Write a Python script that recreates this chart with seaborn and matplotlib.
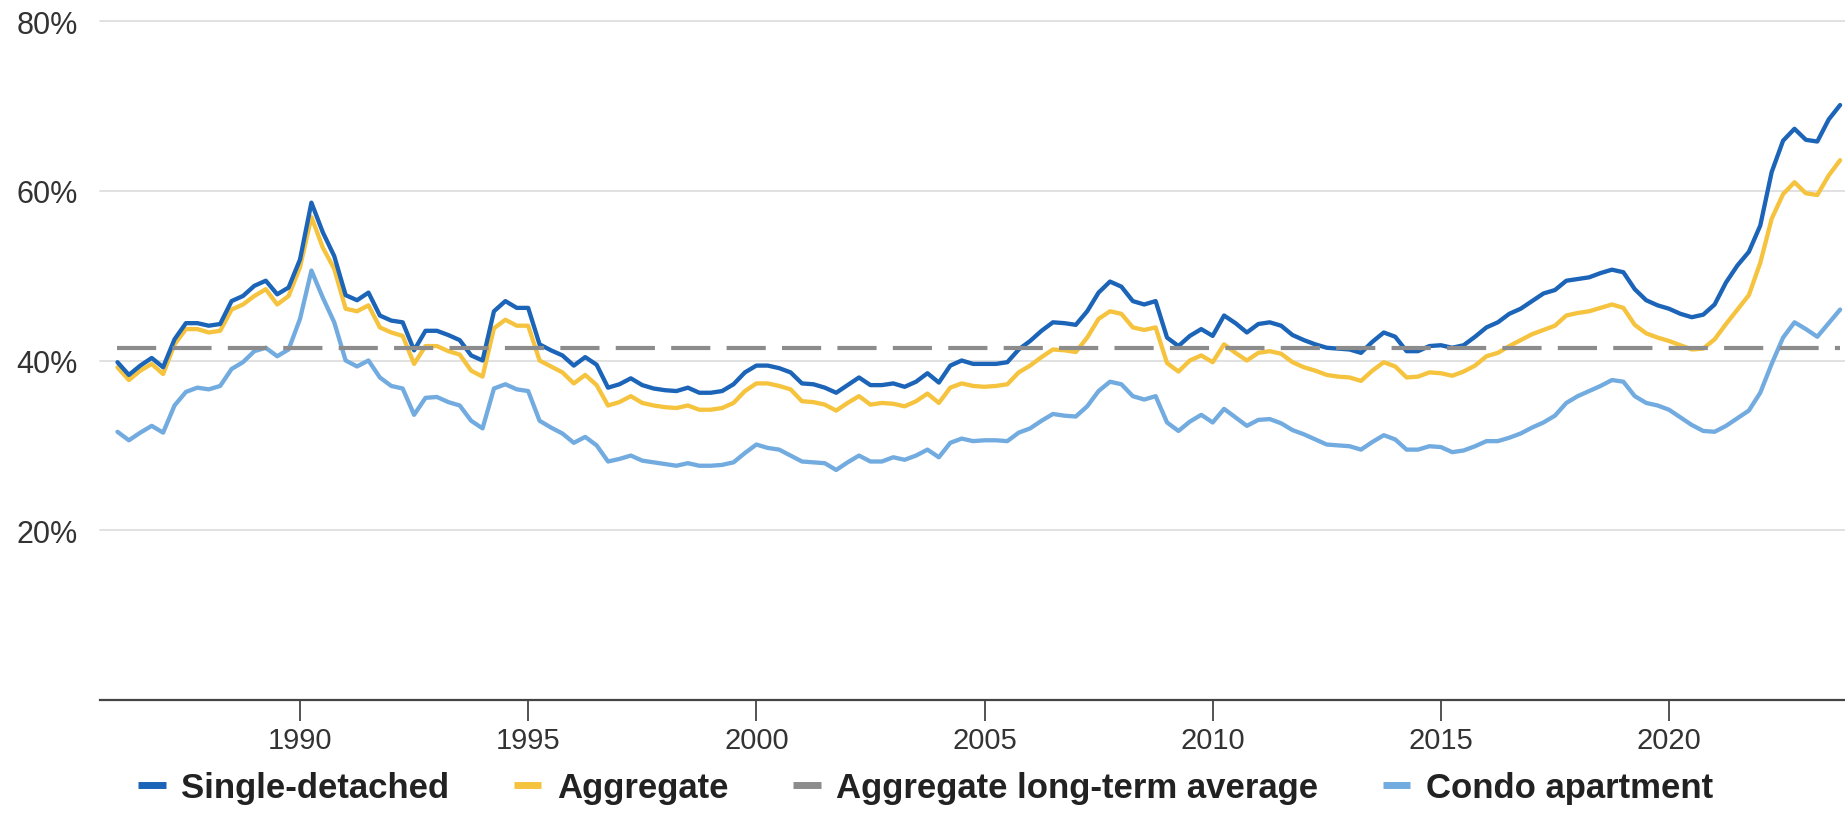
import numpy as np
import pandas as pd
import matplotlib
matplotlib.use("Agg")
import matplotlib.pyplot as plt
from matplotlib.lines import Line2D
import seaborn as sns

# Quarterly observations, 1986 Q1 onward
start_year = 1986.0
n_q = 152
years = [start_year + 0.25 * i for i in range(n_q)]

single_detached = [
    39.8, 38.3, 39.4, 40.3, 39.2, 42.5, 44.4, 44.4, 44.1, 44.3,
    47.0, 47.6, 48.8, 49.4, 47.8, 48.6, 51.9, 58.6, 55.1, 52.3,
    47.7, 47.1, 48.0, 45.3, 44.7, 44.5, 41.2, 43.5, 43.5, 43.0,
    42.4, 40.6, 40.0, 45.8, 47.0, 46.2, 46.2, 41.9, 41.2, 40.6,
    39.4, 40.4, 39.5, 36.8, 37.2, 37.9, 37.1, 36.7, 36.5, 36.4,
    36.8, 36.2, 36.2, 36.4, 37.2, 38.6, 39.4, 39.4, 39.1, 38.6,
    37.3, 37.2, 36.8, 36.2, 37.1, 38.0, 37.1, 37.1, 37.3, 36.9,
    37.5, 38.5, 37.4, 39.4, 40.0, 39.6, 39.6, 39.6, 39.8, 41.3,
    42.3, 43.5, 44.5, 44.4, 44.2, 45.8, 48.0, 49.3, 48.7, 47.0,
    46.6, 47.0, 42.7, 41.7, 42.9, 43.7, 42.9, 45.3, 44.4, 43.3,
    44.3, 44.5, 44.1, 43.0, 42.4, 41.9, 41.5, 41.4, 41.3, 40.9,
    42.2, 43.3, 42.8, 41.1, 41.1, 41.7, 41.8, 41.5, 41.8, 42.8,
    43.9, 44.5, 45.5, 46.1, 47.0, 47.9, 48.3, 49.4, 49.6, 49.8,
    50.3, 50.7, 50.4, 48.4, 47.1, 46.5, 46.1, 45.5, 45.1, 45.4,
    46.6, 49.2, 51.2, 52.8, 55.9, 62.2, 65.9, 67.3, 66.0, 65.8,
    68.4, 70.1,
]

aggregate = [
    39.2, 37.7, 38.8, 39.6, 38.4, 41.9, 43.7, 43.7, 43.3, 43.5,
    46.0, 46.6, 47.6, 48.4, 46.6, 47.6, 51.0, 56.9, 53.3, 50.8,
    46.1, 45.8, 46.5, 43.9, 43.3, 42.9, 39.6, 41.7, 41.7, 41.1,
    40.7, 38.8, 38.1, 43.8, 44.8, 44.1, 44.1, 40.0, 39.3, 38.6,
    37.3, 38.3, 37.1, 34.7, 35.1, 35.8, 35.0, 34.7, 34.5, 34.4,
    34.7, 34.2, 34.2, 34.4, 35.0, 36.4, 37.3, 37.3, 37.0, 36.6,
    35.2, 35.1, 34.8, 34.1, 35.0, 35.8, 34.8, 35.0, 34.9, 34.6,
    35.2, 36.1, 35.0, 36.8, 37.3, 37.0, 36.9, 37.0, 37.2, 38.6,
    39.4, 40.4, 41.3, 41.2, 41.0, 42.7, 44.9, 45.8, 45.5, 43.9,
    43.6, 43.9, 39.7, 38.7, 40.0, 40.6, 39.8, 41.9, 40.9, 40.0,
    40.9, 41.1, 40.8, 39.8, 39.2, 38.8, 38.3, 38.1, 38.0, 37.6,
    38.8, 39.8, 39.3, 38.0, 38.1, 38.6, 38.5, 38.2, 38.7, 39.4,
    40.5, 40.9, 41.7, 42.4, 43.1, 43.6, 44.1, 45.3, 45.6, 45.8,
    46.2, 46.6, 46.2, 44.2, 43.2, 42.7, 42.3, 41.8, 41.3, 41.4,
    42.5, 44.3, 46.0, 47.7, 51.5, 56.7, 59.6, 61.0, 59.7, 59.5,
    61.8, 63.6,
]

condo_apartment = [
    31.6, 30.6, 31.5, 32.3, 31.5, 34.7, 36.3, 36.8, 36.6, 37.0,
    39.0, 39.8, 41.1, 41.5, 40.5, 41.3, 44.9, 50.6, 47.4, 44.5,
    40.0, 39.3, 40.0, 38.0, 37.0, 36.7, 33.6, 35.6, 35.7, 35.1,
    34.7, 32.9, 32.0, 36.7, 37.2, 36.6, 36.4, 32.9, 32.1, 31.4,
    30.3, 31.0, 30.0, 28.1, 28.4, 28.8, 28.2, 28.0, 27.8, 27.6,
    27.9, 27.6, 27.6, 27.7, 28.0, 29.1, 30.1, 29.7, 29.5, 28.8,
    28.1, 28.0, 27.9, 27.1, 28.0, 28.8, 28.1, 28.1, 28.6, 28.3,
    28.8, 29.5, 28.6, 30.3, 30.8, 30.5, 30.6, 30.6, 30.5, 31.5,
    32.0, 32.9, 33.7, 33.5, 33.4, 34.6, 36.4, 37.5, 37.2, 35.8,
    35.4, 35.8, 32.7, 31.7, 32.8, 33.6, 32.7, 34.3, 33.3, 32.3,
    33.0, 33.1, 32.6, 31.8, 31.3, 30.7, 30.1, 30.0, 29.9, 29.5,
    30.4, 31.2, 30.7, 29.5, 29.5, 29.9, 29.8, 29.2, 29.4, 29.9,
    30.5, 30.5, 30.9, 31.4, 32.1, 32.7, 33.5, 35.0, 35.8, 36.4,
    37.0, 37.7, 37.5, 35.8, 35.0, 34.7, 34.2, 33.3, 32.4, 31.7,
    31.6, 32.3, 33.2, 34.1, 36.2, 39.6, 42.7, 44.5, 43.7, 42.8,
    44.4, 46.0,
]

aggregate_long_term_average = 41.5

series_names = ["Single-detached", "Aggregate", "Aggregate long-term average", "Condo apartment"]
x_ticks = [1990, 1995, 2000, 2005, 2010, 2015, 2020]
x_tick_labels = ["1990", "1995", "2000", "2005", "2010", "2015", "2020"]
y_ticks = [20, 40, 60, 80]
y_tick_labels = ["20%", "40%", "60%", "80%"]

colors = {
    "Single-detached": "#1b64b7",
    "Aggregate": "#f6c33f",
    "Aggregate long-term average": "#8c8c8c",
    "Condo apartment": "#72abdf",
}

sns.set_theme(style="white")
plt.rcParams["font.family"] = ["Liberation Sans", "DejaVu Sans"]

df = pd.concat([
    pd.DataFrame({"year": years, "value": condo_apartment, "series": "Condo apartment"}),
    pd.DataFrame({"year": years, "value": aggregate, "series": "Aggregate"}),
    pd.DataFrame({"year": years, "value": single_detached, "series": "Single-detached"}),
], ignore_index=True)

fig = plt.figure(figsize=(18.45, 8.37), dpi=100)
ax = fig.add_axes([100 / 1845, 1 - 701 / 837, 1745 / 1845, (701 - 22) / 837])

# gridlines
for yv in y_ticks:
    ax.axhline(yv, color="#dcdcdc", lw=1.2, zorder=0, clip_on=False)

sns.lineplot(
    data=df, x="year", y="value", hue="series",
    hue_order=["Condo apartment", "Aggregate", "Single-detached"],
    palette=colors, linewidth=3.1, estimator=None, legend=False,
    ax=ax, zorder=3,
)

avg_df = pd.DataFrame({"year": [years[0], years[-1]],
                       "value": [aggregate_long_term_average, aggregate_long_term_average]})
sns.lineplot(data=avg_df, x="year", y="value", color=colors["Aggregate long-term average"],
             linewidth=3.0, ax=ax, zorder=4, estimator=None)
ax.lines[-1].set_dashes((9.4, 3.9))

ax.set_xlim(1985.617, 2023.857)
ax.set_ylim(0, 80)
ax.set_xlabel("")
ax.set_ylabel("")

ax.set_xticks(x_ticks)
ax.set_xticklabels(x_tick_labels)
ax.set_yticks(y_ticks)
ax.set_yticklabels(y_tick_labels)

ax.tick_params(axis="x", which="both", bottom=True, length=15, width=1.3,
               color="#444444", labelsize=21, labelcolor="#333333", pad=4)
ax.tick_params(axis="y", which="both", left=False, length=0,
               labelsize=22, labelcolor="#333333", pad=16)

for s in ["top", "right", "left"]:
    ax.spines[s].set_visible(False)
ax.spines["bottom"].set_color("#444444")
ax.spines["bottom"].set_linewidth(1.6)
ax.spines["bottom"].set_zorder(5)

handles = [Line2D([0], [0], color=colors[n], lw=5, solid_capstyle="butt") for n in series_names]
leg = fig.legend(handles, series_names, loc="center", bbox_to_anchor=(0.5016, 0.058),
                 ncol=4, frameon=False, handlelength=0.8, handletextpad=0.45,
                 columnspacing=1.85, prop={"size": 25, "weight": "bold"})
for t in leg.get_texts():
    t.set_color("#222222")

fig.savefig("out.png", dpi=100)
